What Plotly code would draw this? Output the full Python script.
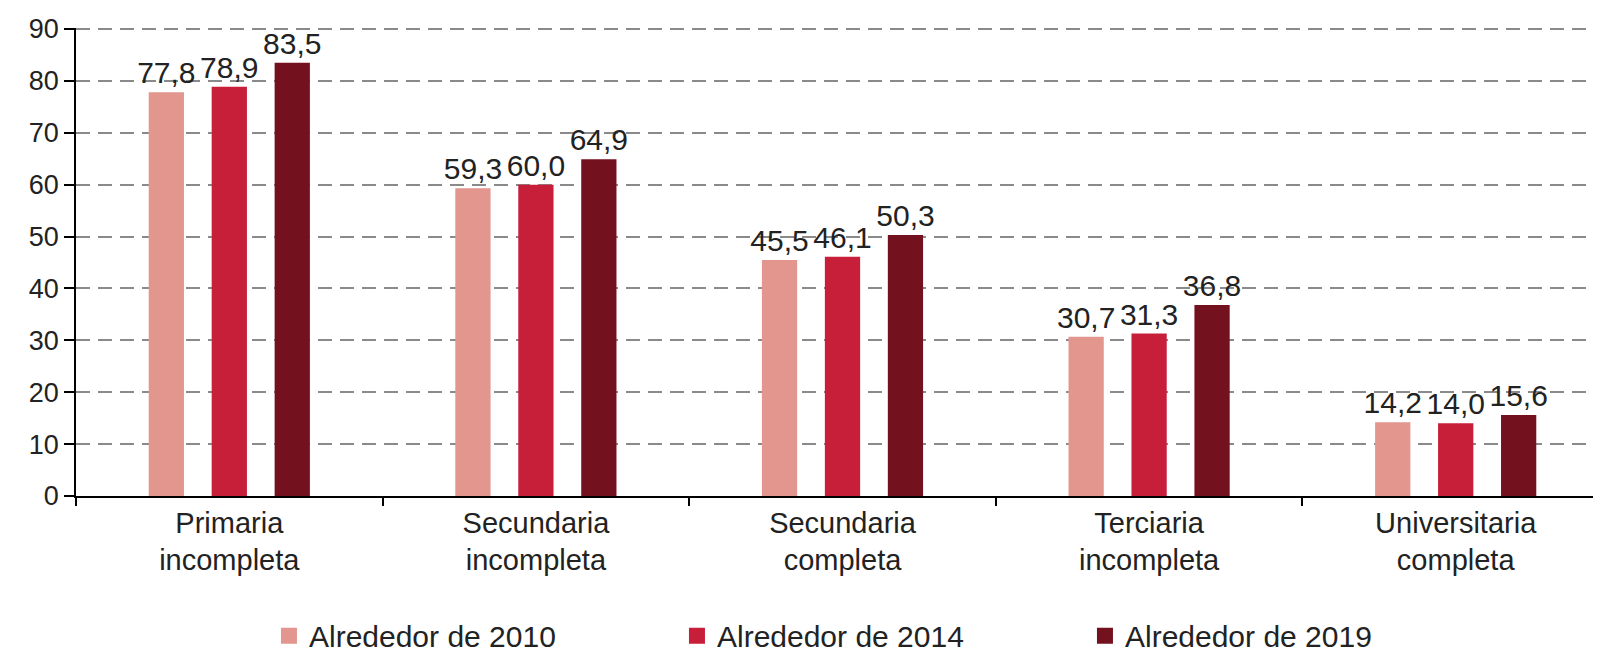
import plotly.graph_objects as go

categories = ["Primaria<br>incompleta", "Secundaria<br>incompleta", "Secundaria<br>completa",
              "Terciaria<br>incompleta", "Universitaria<br>completa"]
series_names = ["Alrededor de 2010", "Alrededor de 2014", "Alrededor de 2019"]
values_2010 = [77.8, 59.3, 45.5, 30.7, 14.2]
values_2014 = [78.9, 60.0, 46.1, 31.3, 14.0]
values_2019 = [83.5, 64.9, 50.3, 36.8, 15.6]
y_ticks = [0, 10, 20, 30, 40, 50, 60, 70, 80, 90]

colors = ["#E2968E", "#C71E3A", "#73111E"]
FONT = "Liberation Sans, Arial, sans-serif"

fig = go.Figure()
for name, vals, col in zip(series_names, [values_2010, values_2014, values_2019], colors):
    fig.add_trace(go.Bar(
        x=categories, y=vals, name=name, marker_color=col, marker_line_width=0,
        texttemplate="%{y:.1f}", textposition="outside", constraintext="none",
        cliponaxis=False, textfont=dict(size=30, color="#222222", family=FONT),
        showlegend=False,
    ))
    fig.add_trace(go.Scatter(
        x=[None], y=[None], mode="markers", name=name,
        marker=dict(symbol="square", size=16, color=col), showlegend=True,
    ))

fig.update_layout(
    width=1601, height=658,
    margin=dict(l=68, r=0, t=20, b=170),
    plot_bgcolor="white", paper_bgcolor="white",
    barmode="group", bargap=0.384, bargroupgap=0.44,
    separators=",.",
    font=dict(family=FONT, color="#222222"),
    legend=dict(
        orientation="h", xref="container", yref="container",
        x=0.163, xanchor="left", y=0.046, yanchor="middle",
        entrywidth=363, entrywidthmode="pixels",
        font=dict(size=30, family=FONT, color="#222222"),
        itemsizing="trace", traceorder="normal",
    ),
)
fig.update_xaxes(
    showline=True, linecolor="black", linewidth=1.5,
    ticks="outside", tickson="boundaries", ticklen=8, tickcolor="black", tickwidth=1.5,
    tickfont=dict(size=29, family=FONT, color="#222222"),
    showgrid=False,
)
fig.update_yaxes(
    range=[0, 90.2], tickvals=y_ticks,
    showline=True, linecolor="black", linewidth=1.5,
    ticks="outside", ticklen=10, tickcolor="black", tickwidth=1.5,
    tickfont=dict(size=27, family=FONT, color="#222222"),
    showgrid=True, gridcolor="#8a8a8a", gridwidth=1.5, griddash="14px,8px",
    zeroline=False,
)
fig.write_html("out.html")
